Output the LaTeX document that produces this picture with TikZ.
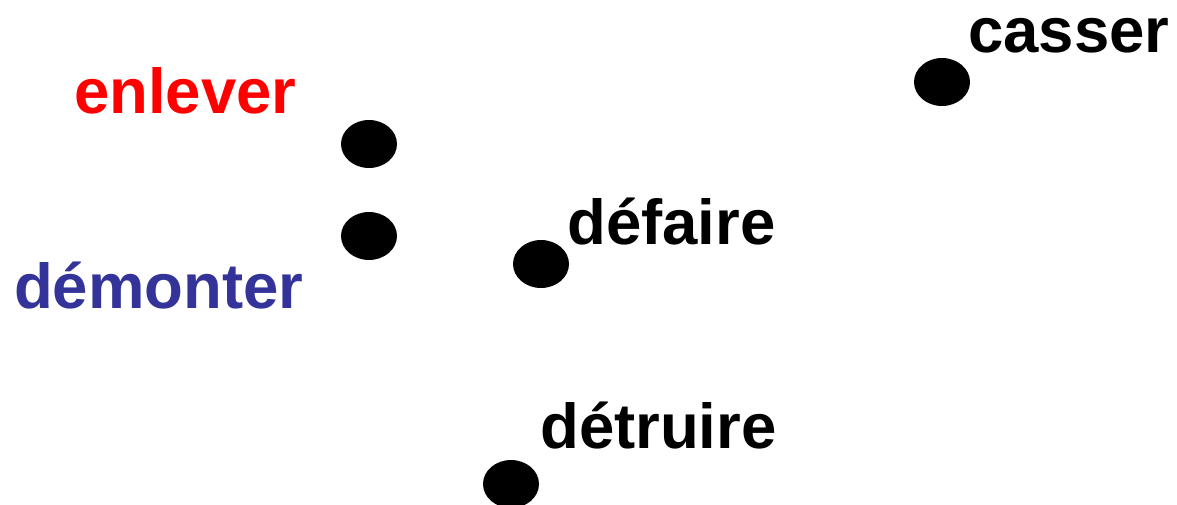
\documentclass[tikz,border=0pt]{standalone}
\usepackage{fontspec}
\usetikzlibrary{shapes.geometric}
\setmainfont{Liberation Sans}
\definecolor{myred}{RGB}{255,0,0}
\definecolor{myblue}{RGB}{51,51,153}
\begin{document}
\begin{tikzpicture}[x=1pt,y=-1pt,
  word/.style={anchor=base west,inner sep=0pt,font=\fontsize{63.5}{70}\selectfont\bfseries},
  blob/.style={ellipse,fill=black,draw=none,inner sep=0pt,minimum width=56pt,minimum height=48pt}]
\useasboundingbox (0,0) rectangle (1177,504);
\node[blob] (d1) at (369,144) {};
\node[blob] (d2) at (369,236) {};
\node[blob] (d3) at (541,264) {};
\node[blob] (d4) at (942,82) {};
\node[blob] (d5) at (511,484) {};
\node[word,text=myred] (enlever) at (74,113) {enlever};
\node[word,text=myblue] (demonter) at (14,308) {démonter};
\node[word] (defaire) at (567,244) {défaire};
\node[word] (casser) at (968,52) {casser};
\node[word] (detruire) at (540,448) {détruire};
\end{tikzpicture}
\end{document}
